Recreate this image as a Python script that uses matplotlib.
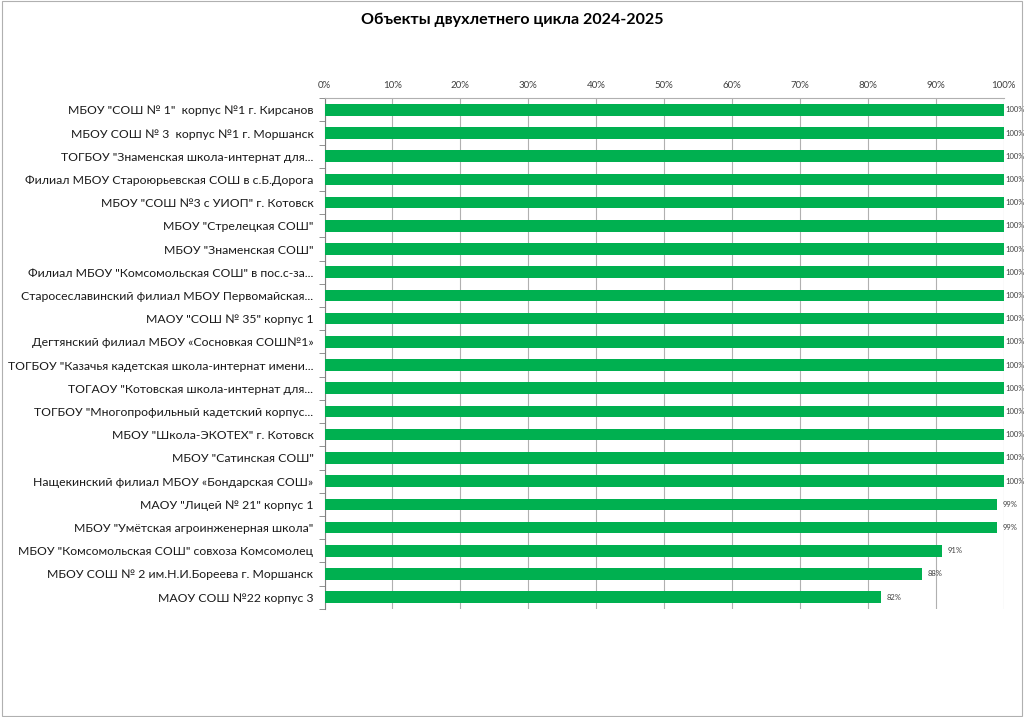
import matplotlib.pyplot as plt
from matplotlib.ticker import FixedLocator

schools = [
    'МБОУ "СОШ № 1"  корпус №1 г. Кирсанов',
    'МБОУ СОШ № 3  корпус №1 г. Моршанск',
    'ТОГБОУ "Знаменская школа-интернат для...',
    'Филиал МБОУ Староюрьевская СОШ в с.Б.Дорога',
    'МБОУ "СОШ №3 с УИОП" г. Котовск',
    'МБОУ "Стрелецкая СОШ"',
    'МБОУ "Знаменская СОШ"',
    'Филиал МБОУ "Комсомольская СОШ" в пос.с-за...',
    'Старосеславинский филиал МБОУ Первомайская...',
    'МАОУ "СОШ № 35" корпус 1',
    'Дегтянский филиал МБОУ «Сосновкая СОШ№1»',
    'ТОГБОУ "Казачья кадетская школа-интернат имени...',
    'ТОГАОУ "Котовская школа-интернат для...',
    'ТОГБОУ "Многопрофильный кадетский корпус...',
    'МБОУ "Школа-ЭКОТЕХ" г. Котовск',
    'МБОУ "Сатинская СОШ"',
    'Нащекинский филиал МБОУ «Бондарская СОШ»',
    'МАОУ "Лицей № 21" корпус 1',
    'МБОУ "Умётская агроинженерная школа"',
    'МБОУ "Комсомольская СОШ" совхоза Комсомолец',
    'МБОУ СОШ № 2 им.Н.И.Бореева г. Моршанск',
    'МАОУ СОШ №22 корпус 3',
]
percent = [100, 100, 100, 100, 100, 100, 100, 100, 100, 100, 100,
           100, 100, 100, 100, 100, 100, 99, 99, 91, 88, 82]

plt.rcParams['font.family'] = ['Lato', 'DejaVu Sans']

fig = plt.figure(figsize=(10.24, 7.17), dpi=100)
ax = fig.add_axes([0.317, 0.151, 0.663, 0.712])

y = list(range(len(schools)))
ax.barh(y, percent, height=0.5, color='#00B050', zorder=3)
for yi, v in zip(y, percent):
    off = 0.2 if v >= 100 else 0.8
    ax.text(v + off, yi, f'{v}%', va='center', ha='left', fontsize=5.5, color='#404040', zorder=4)

ax.set_xlim(0, 100)
ax.set_ylim(len(schools) - 0.5, -0.5)
ax.set_yticks(y)
ax.set_yticklabels(schools, fontsize=8.8, color='#1a1a1a')
ax.yaxis.set_minor_locator(FixedLocator([i - 0.5 for i in range(len(schools) + 1)]))
ax.tick_params(axis='y', which='major', length=0, pad=8)
ax.tick_params(axis='y', which='minor', length=4, color='#808080', direction='out')

ax.xaxis.tick_top()
ax.set_xticks(range(0, 101, 10))
ax.set_xticklabels([f'{t}%' for t in range(0, 101, 10)], fontsize=7, color='#404040')
ax.tick_params(axis='x', length=0, pad=6)
ax.grid(axis='x', color='#b0b0b0', linewidth=0.8, zorder=0)

for s in ['right', 'bottom']:
    ax.spines[s].set_visible(False)
ax.spines['left'].set_color('#808080')
ax.spines['top'].set_color('#b0b0b0')

fig.text(0.5, 0.972, 'Объекты двухлетнего цикла 2024-2025', ha='center', va='center',
         fontsize=11.5, fontweight='bold')

fig.patches.append(plt.Rectangle((0.002, 0.002), 0.996, 0.996, transform=fig.transFigure,
                                 fill=False, edgecolor='#b0b0b0', linewidth=0.8))

fig.savefig('out.png', dpi=100)
